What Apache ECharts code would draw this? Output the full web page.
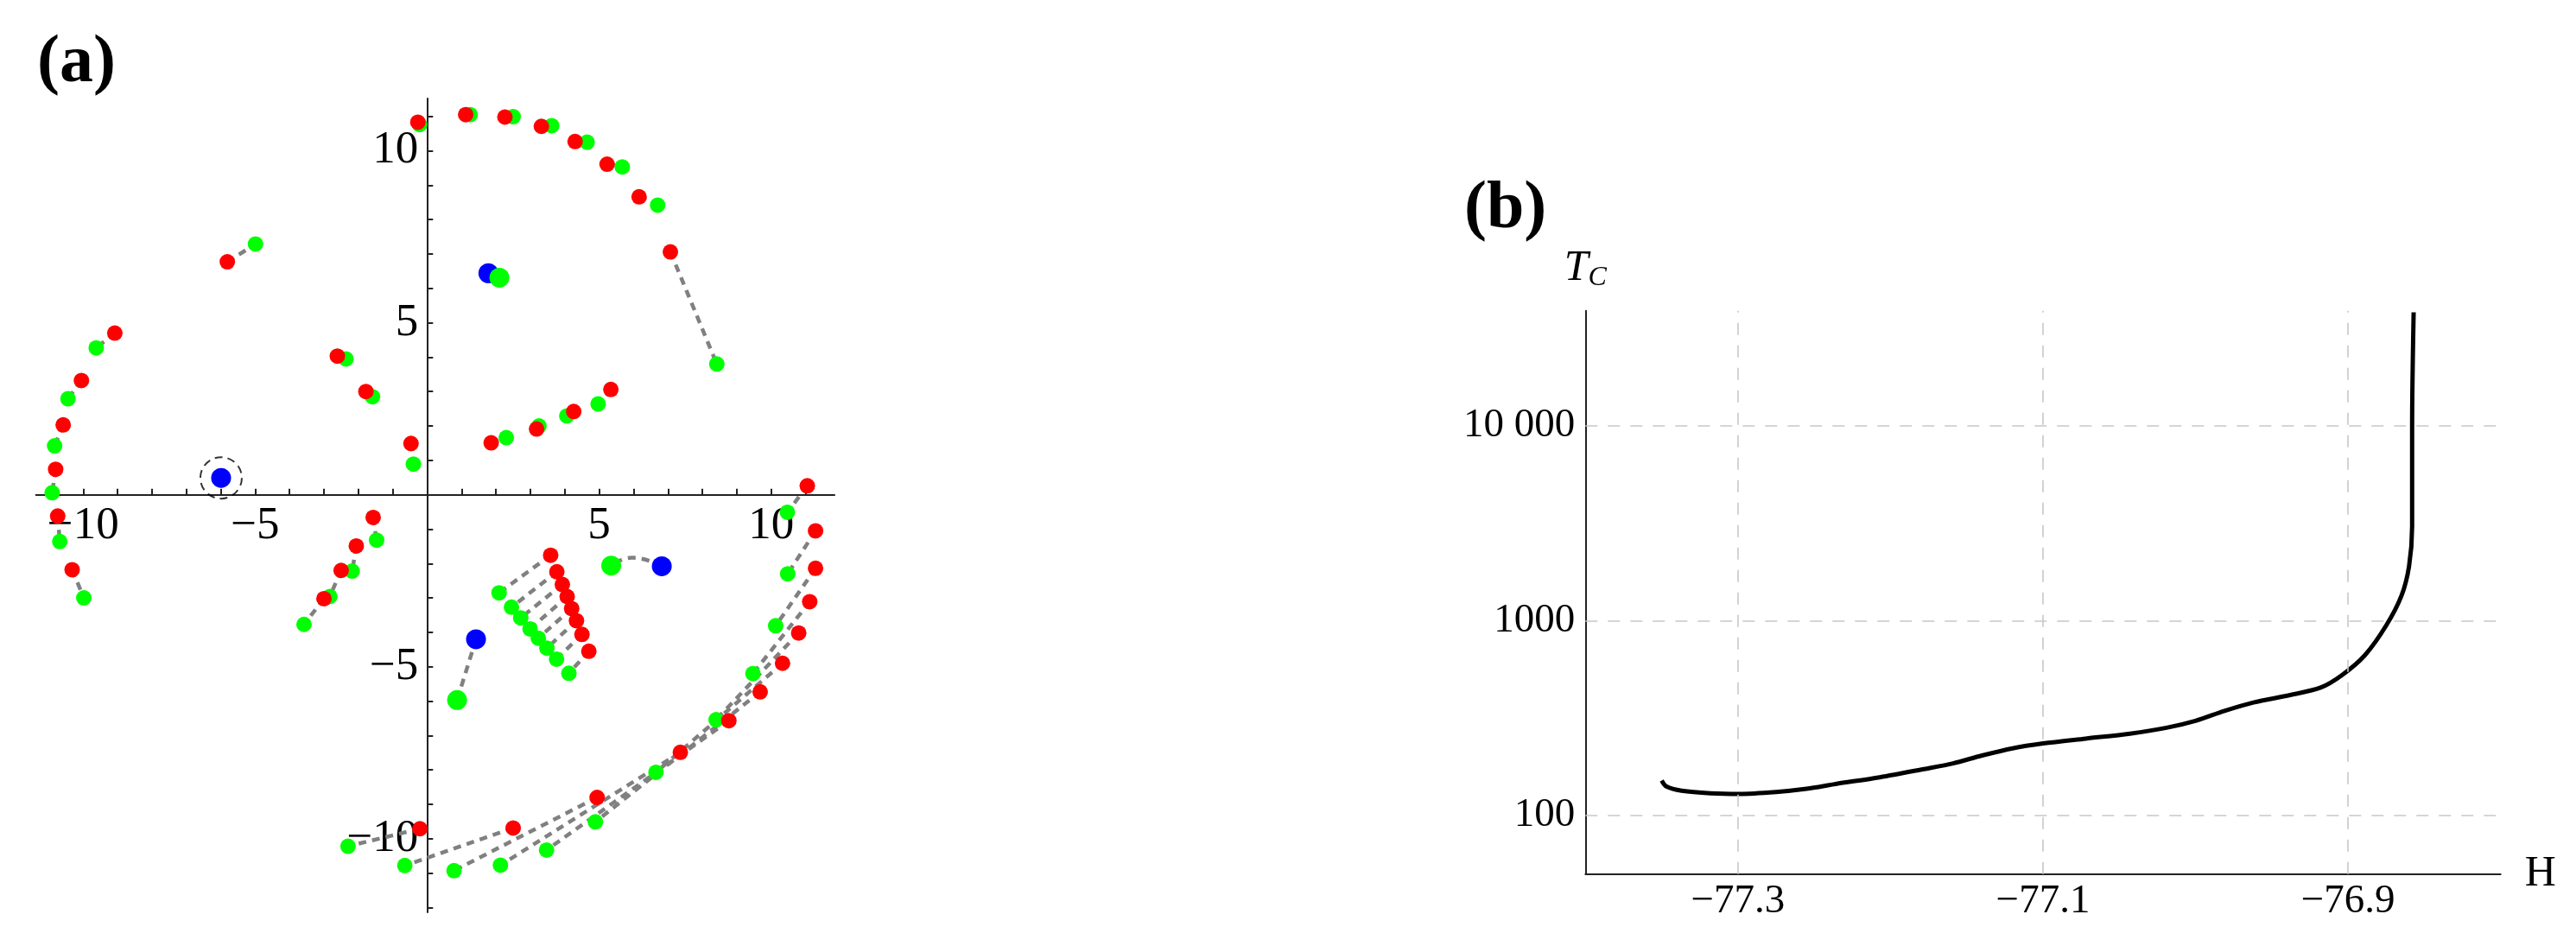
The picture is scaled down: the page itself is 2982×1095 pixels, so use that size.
<!DOCTYPE html>
<html>
<head>
<meta charset="utf-8">
<script src="https://cdn.jsdelivr.net/npm/echarts@6/dist/echarts.min.js"></script>
<style>
html, body { margin: 0; padding: 0; background: #fff; }
#main { width: 2982px; height: 1095px; }
</style>
</head>
<body>
<div id="main"></div>
<script>
// (a) points in the complex plane, red[i] is joined to green[i]
var redPts = [
    [-0.27, 10.83], [1.12, 11.05], [2.26, 10.98], [3.32, 10.71], [4.30, 10.27], [5.23, 9.61], [6.16, 8.66], [7.07, 7.06],
    [-5.81, 6.77], [-9.08, 4.70], [-10.05, 3.32], [-10.58, 2.03], [-10.80, 0.74], [-10.74, -0.62], [-10.32, -2.18],
    [-2.61, 4.03], [-1.78, 3.00], [-0.47, 1.49], [-1.57, -0.66], [-2.06, -1.49], [-2.50, -2.20], [-3.00, -3.02],
    [1.86, 1.51], [3.18, 1.91], [4.26, 2.42], [5.34, 3.06],
    [3.59, -1.76], [3.77, -2.24], [3.93, -2.61], [4.07, -2.96], [4.20, -3.31], [4.34, -3.66], [4.50, -4.06], [4.70, -4.55],
    [-0.21, -9.71], [2.50, -9.69], [4.94, -8.80], [7.36, -7.49], [8.77, -6.57], [9.68, -5.73], [10.33, -4.90], [10.80, -4.02],
    [11.12, -3.11], [11.29, -2.14], [11.29, -1.05], [11.05, 0.26]
];
var greenPts = [
    [-0.22, 10.76], [1.25, 11.05], [2.50, 10.99], [3.62, 10.73], [4.65, 10.25], [5.67, 9.53], [6.70, 8.42], [8.42, 3.80],
    [-4.99, 7.29], [-9.62, 4.27], [-10.44, 2.79], [-10.83, 1.42], [-10.90, 0.06], [-10.68, -1.36], [-9.98, -3.00],
    [-2.36, 3.95], [-1.59, 2.85], [-0.40, 0.89], [-1.47, -1.32], [-2.18, -2.22], [-2.83, -2.96], [-3.58, -3.77],
    [2.30, 1.66], [3.25, 2.00], [4.06, 2.29], [4.97, 2.64],
    [2.09, -2.85], [2.45, -3.27], [2.72, -3.58], [2.99, -3.90], [3.23, -4.17], [3.48, -4.46], [3.76, -4.78], [4.12, -5.19],
    [-2.30, -10.22], [-0.65, -10.78], [0.78, -10.93], [2.13, -10.77], [3.47, -10.33], [4.89, -9.51], [6.65, -8.07], [8.40, -6.54],
    [9.47, -5.20], [10.13, -3.81], [10.48, -2.30], [10.47, -0.51]
];
var bluePts = [[1.78, 6.44], [1.42, -4.20], [6.82, -2.08], [-5.99, 0.49]];
var bigGreenPts = [[2.10, 6.31], [0.87, -5.97], [5.35, -2.06]];
var bluePaths = [
    [[1.78, 6.44], [2.10, 6.31]],
    [[1.42, -4.20], [0.87, -5.97]],
    [[6.82, -2.08], [5.95, -1.83], [5.35, -2.06]]
];
var circledPts = [[-5.99, 0.49]];
var aXTicks = [-11, -10, -9, -8, -7, -6, -5, -4, -3, -2, -1, 1, 2, 3, 4, 5, 6, 7, 8, 9, 10, 11];
var aYTicks = [-12, -11, -10, -9, -8, -7, -6, -5, -4, -3, -2, -1, 1, 2, 3, 4, 5, 6, 7, 8, 9, 10, 11];
var aLabels = [-10, -5, 5, 10];

// (b) T_C against H
var hVals = [-77.350, -77.347, -77.337, -77.318, -77.299, -77.275, -77.255, -77.236, -77.207, -77.178,
    -77.159, -77.140, -77.120, -77.100, -77.072, -77.043, -77.019, -77.000, -76.981, -76.962,
    -76.938, -76.918, -76.904, -76.889, -76.875, -76.865, -76.860, -76.858, -76.858, -76.857];
var tcVals = [151, 141, 134, 130, 129, 132, 137, 145, 157, 173,
    185, 203, 221, 234, 248, 263, 282, 306, 344, 380,
    415, 453, 525, 664, 944, 1341, 1905, 3040, 9820, 38300];
var bXLabels = [-77.3, -77.1, -76.9];
var bYLabels = [100, 1000, 10000];

var FONT = 'Liberation Serif';
var XMIN = -11.37, XMAX = 11.84, YMIN = -12.14, YMAX = 11.52;
var minus = function (v) { return String(v).replace('-', '\u2212'); };

var chart = echarts.init(document.getElementById('main'));

var series = [];
// dotted trajectories
for (var i = 0; i < redPts.length; i++) {
    series.push({
        type: 'line', xAxisIndex: 0, yAxisIndex: 0,
        data: [redPts[i], greenPts[i]],
        symbol: 'none', silent: true, z: 1,
        lineStyle: {color: '#808080', width: 4.5, type: [9, 7]}
    });
}
for (var j = 0; j < bluePaths.length; j++) {
    series.push({
        type: 'line', xAxisIndex: 0, yAxisIndex: 0,
        data: bluePaths[j], smooth: true,
        symbol: 'none', silent: true, z: 1,
        lineStyle: {color: '#808080', width: 4.5, type: [9, 7]}
    });
}
series.push({
    type: 'scatter', xAxisIndex: 0, yAxisIndex: 0, data: circledPts, z: 2,
    symbolSize: 48,
    itemStyle: {color: 'rgba(0,0,0,0)', borderColor: '#000', borderWidth: 2, borderType: [9, 6]}
});
series.push({
    type: 'scatter', xAxisIndex: 0, yAxisIndex: 0, data: bluePts, z: 3,
    symbolSize: 23, itemStyle: {color: '#0000ff', opacity: 1}
});
series.push({
    type: 'scatter', xAxisIndex: 0, yAxisIndex: 0, data: greenPts, z: 4,
    symbolSize: 18, itemStyle: {color: '#00ff00', opacity: 1}
});
series.push({
    type: 'scatter', xAxisIndex: 0, yAxisIndex: 0, data: bigGreenPts, z: 4,
    symbolSize: 23, itemStyle: {color: '#00ff00', opacity: 1}
});
series.push({
    type: 'scatter', xAxisIndex: 0, yAxisIndex: 0, data: redPts, z: 5,
    symbolSize: 18, itemStyle: {color: '#ff0000', opacity: 1}
});

// right panel curve + gridlines
var curve = hVals.map(function (h, k) { return [h, tcVals[k]]; });
series.push({
    type: 'line', xAxisIndex: 1, yAxisIndex: 1,
    data: curve, smooth: 0.3, symbol: 'none',
    lineStyle: {color: '#000', width: 5},
    markLine: {
        silent: true, symbol: 'none', label: {show: false},
        lineStyle: {color: '#c8c8c8', width: 1.6, type: [14, 12]},
        data: bXLabels.map(function (v) { return {xAxis: v}; })
            .concat(bYLabels.map(function (v) { return {yAxis: v}; }))
    },
    z: 3
});

var hidden = {show: false};
var option = {
    animation: false,
    backgroundColor: '#fff',
    textStyle: {fontFamily: FONT},
    title: [
        {
            text: '{p|(}{b|a}{p|)}', left: 38, top: 30,
            textStyle: {rich: {
                p: {fontFamily: FONT, fontSize: 78, color: '#000'},
                b: {fontFamily: FONT, fontSize: 78, fontWeight: 'bold', color: '#000'}
            }}
        },
        {
            text: '{p|(}{b|b}{p|)}', left: 1690, top: 199,
            textStyle: {rich: {
                p: {fontFamily: FONT, fontSize: 78, color: '#000'},
                b: {fontFamily: FONT, fontSize: 78, fontWeight: 'bold', color: '#000'}
            }}
        }
    ],
    grid: [
        {left: 41.7, top: 114, width: 924.3, height: 942},     // (a) data
        {left: 1835.3, top: 359.7, width: 1059.4, height: 652}, // (b)
        {left: 41.7, top: 114, width: 924.3, height: 458.7},   // (a) horizontal axis through 0
        {left: 494.3, top: 114, width: 471.7, height: 942}     // (a) vertical axis through 0
    ],
    xAxis: [
        {type: 'value', gridIndex: 0, min: XMIN, max: XMAX, show: false},
        {
            type: 'value', gridIndex: 1, min: -77.4, max: -76.8,
            axisLine: {onZero: false, lineStyle: {color: '#222', width: 2}},
            axisTick: {show: false},
            axisLabel: {customValues: bXLabels, formatter: minus, margin: 8,
                fontFamily: FONT, fontSize: 47, color: '#000'},
            splitLine: {show: false},
            name: 'H', nameLocation: 'end', nameGap: 28,
            nameTextStyle: {fontFamily: FONT, fontSize: 50, color: '#000', verticalAlign: 'middle'}
        },
        {
            type: 'value', gridIndex: 2, min: XMIN, max: XMAX, position: 'bottom',
            axisLine: {onZero: false, lineStyle: {color: '#222', width: 2}},
            axisTick: {inside: true, length: 7, customValues: aXTicks, lineStyle: {color: '#222', width: 2}},
            axisLabel: {customValues: aLabels, formatter: minus, margin: 10,
                fontFamily: FONT, fontSize: 53, color: '#000'},
            splitLine: hidden
        },
        {type: 'value', gridIndex: 3, min: 0, max: 1, show: false}
    ],
    yAxis: [
        {type: 'value', gridIndex: 0, min: YMIN, max: YMAX, show: false},
        {
            type: 'log', logBase: 10, gridIndex: 1, min: 50, max: 39000,
            axisLine: {show: true, onZero: false, lineStyle: {color: '#222', width: 2}},
            axisTick: {show: false},
            axisLabel: {
                margin: 12, fontFamily: FONT, fontSize: 47, color: '#000',
                formatter: function (v) {
                    for (var k = 0; k < bYLabels.length; k++) {
                        if (Math.abs(v - bYLabels[k]) / bYLabels[k] < 1e-6) {
                            return bYLabels[k] === 10000 ? '10 000' : String(bYLabels[k]);
                        }
                    }
                    return '';
                }
            },
            splitLine: {show: false},
            name: '{t|T}{s|C}', nameLocation: 'end', nameGap: 22,
            nameTextStyle: {
                rich: {
                    t: {fontFamily: FONT, fontStyle: 'italic', fontSize: 50, color: '#000'},
                    s: {fontFamily: FONT, fontStyle: 'italic', fontSize: 32, color: '#000', padding: [22, 0, 0, 0]}
                }
            }
        },
        {type: 'value', gridIndex: 2, min: 0, max: 1, show: false},
        {
            type: 'value', gridIndex: 3, min: YMIN, max: YMAX, position: 'left',
            axisLine: {onZero: false, lineStyle: {color: '#222', width: 2}},
            axisTick: {inside: true, length: 7, customValues: aYTicks, lineStyle: {color: '#222', width: 2}},
            axisLabel: {customValues: aLabels, formatter: minus, margin: 10,
                fontFamily: FONT, fontSize: 53, color: '#000'},
            splitLine: hidden
        }
    ],
    series: series
};

chart.setOption(option);
</script>
</body>
</html>
